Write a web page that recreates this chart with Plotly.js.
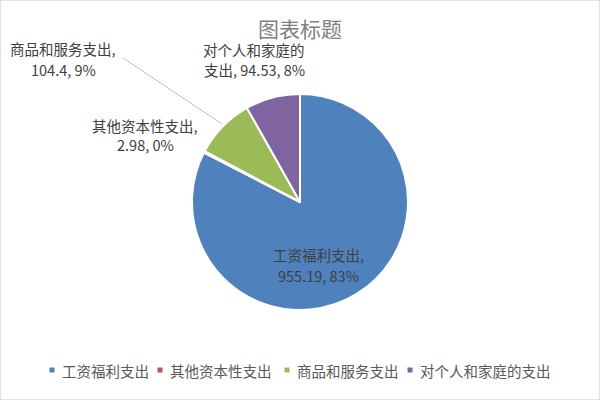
<!DOCTYPE html>
<html>
<head>
<meta charset="utf-8">
<script src="https://cdn.plot.ly/plotly-3.0.1.min.js"></script>
<style>
  body { margin: 0; background: #fff; }
  #chart { width: 600px; height: 400px; }
</style>
</head>
<body>
<div id="chart"></div>
<script>
    let labels = ['工资福利支出', '其他资本性支出', '商品和服务支出', '对个人和家庭的支出'];
    let values = [955.19, 2.98, 104.4, 94.53];
    let colors = ['#4F81BD', '#C0504D', '#9BBB59', '#8064A2'];

    let total = values.reduce((a, b) => a + b, 0);
    let pct = values.map((v) => Math.round(v / total * 100) + '%');

    let font = "'Noto Sans CJK SC', 'Noto Sans', sans-serif";
    let W = 600, H = 400;

    let trace = {
        type: 'pie',
        labels: labels,
        values: values,
        textinfo: 'none',
        sort: false,
        direction: 'clockwise',
        rotation: 0,
        marker: {colors: colors, line: {color: '#ffffff', width: 2}},
        domain: {x: [0.32, 0.68], y: [0.215, 0.775]},
        hoverinfo: 'label+value+percent',
        showlegend: false
    };

    // data labels, two lines each, placed like the original (pixel centres)
    let labelLines = [
        {x: 318, y: [255, 275], lines: [labels[0] + ',', values[0] + ', ' + pct[0]]},
        {x: 145, y: [125, 144], lines: [labels[1] + ',', values[1] + ', ' + pct[1]]},
        {x: 63, y: [48, 69], lines: [labels[2] + ',', values[2] + ', ' + pct[2]]},
        {x: 254, y: [49, 69], lines: [labels[3].slice(0, 7), labels[3].slice(7) + ', ' + values[3] + ', ' + pct[3]]}
    ];

    let annotations = [];
    labelLines.forEach((o) => {
        o.lines.forEach((t, k) => {
            annotations.push({
                xref: 'paper', yref: 'paper', x: o.x / W, y: 1 - o.y[k] / H,
                xanchor: 'center', yanchor: 'middle',
                text: t, showarrow: false,
                font: {family: font, size: 14.5, color: '#404040'}
            });
        });
    });

    // legend row, drawn by hand so spacing matches the original
    let legendX = [52, 160, 287, 410];
    let legendY = 370;
    let shapes = [];
    labels.forEach((l, i) => {
        shapes.push({type: 'rect', xref: 'paper', yref: 'paper',
            x0: (legendX[i] - 2.5) / W, x1: (legendX[i] + 2.5) / W,
            y0: 1 - (legendY + 2.5) / H, y1: 1 - (legendY - 2.5) / H,
            fillcolor: colors[i], line: {width: 0}});
        annotations.push({
            xref: 'paper', yref: 'paper', x: (legendX[i] + 8) / W, y: 1 - legendY / H,
            xanchor: 'left', yanchor: 'middle',
            text: l, showarrow: false,
            font: {family: font, size: 14.5, color: '#595959'}
        });
    });

    // leader line for 商品和服务支出
    shapes.push({type: 'line', xref: 'paper', yref: 'paper',
        x0: 123 / W, y0: 1 - 58 / H, x1: 222 / W, y1: 1 - 124 / H,
        line: {color: '#bfbfbf', width: 1}});
    shapes.push({type: 'rect', xref: 'paper', yref: 'paper', x0: 0, y0: 0, x1: 1, y1: 1,
        line: {color: '#d9d9d9', width: 1.5}});

    let layout = {
        width: W,
        height: H,
        margin: {l: 0, r: 0, t: 0, b: 0},
        paper_bgcolor: '#ffffff',
        title: {
            text: '图表标题',
            x: 0.5, xanchor: 'center',
            y: 1 - 30 / H, yanchor: 'middle',
            font: {family: font, size: 21, color: '#808080'}
        },
        showlegend: false,
        annotations: annotations,
        shapes: shapes
    };

    Plotly.newPlot('chart', [trace], layout, {displayModeBar: false});
</script>
</body>
</html>
